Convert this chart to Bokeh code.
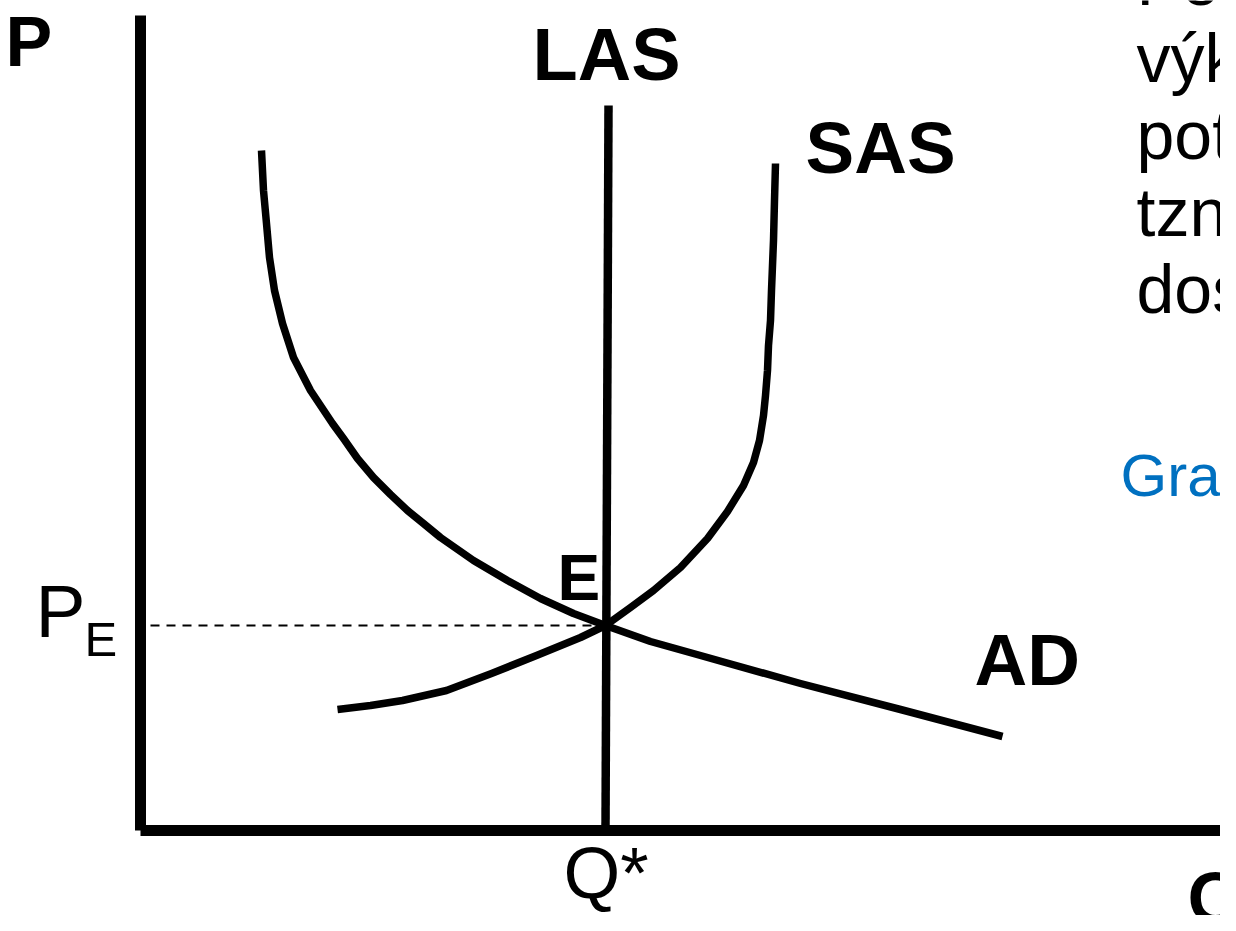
from bokeh.plotting import figure
from bokeh.models import Range1d, Label
from bokeh.embed import file_html
from bokeh.resources import INLINE

# Aggregate demand curve (Q, P)
ad_q = [121, 123, 126, 129, 134, 142, 153, 170, 192, 203, 217, 233, 250, 267, 283, 300,
        333, 367, 400, 433, 465, 510, 560, 660, 760, 862]
ad_p = [680, 640, 607, 573, 540, 507, 473, 440, 407, 392, 372, 353, 336, 320, 307, 293,
        270, 250, 232, 217, 205, 189, 175, 147, 121, 94]

# Short-run aggregate supply curve (Q, P)
sas_q = [197, 230, 262, 306, 351, 396, 440, 465, 490, 513, 540, 567, 587, 603, 613, 619, 623, 625, 627,
         628, 630, 631, 633, 634, 635]
sas_p = [121, 125, 130, 140, 157, 175, 193, 205, 223, 240, 263, 292, 319, 345, 368, 390, 415, 435, 460,
         485, 510, 540, 590, 630, 667]

# Long-run aggregate supply (vertical at potential output)
las_q = [468, 465]
las_p = [725, 0]

# Equilibrium
q_star = 465
p_e = 205

# Axes extents
p_axis_top = 815
q_axis_end = 1100

FONT = "Liberation Sans"

p = figure(width=1220, height=915,
           x_range=Range1d(-140, 1080), y_range=Range1d(-85, 830),
           output_backend="svg", toolbar_location=None,
           min_border=0, x_axis_type=None, y_axis_type=None)

p.grid.visible = False
p.outline_line_color = None
p.background_fill_color = "white"
p.border_fill_color = "white"

# axes
p.line(x=[0, 0], y=[0, p_axis_top], line_color="black", line_width=11)
p.line(x=[0, q_axis_end], y=[0, 0], line_color="black", line_width=11)

# dashed price guide
p.line(x=[10, q_star - 7], y=[p_e, p_e], line_color="black", line_width=2, line_dash="9 7")

# curves
p.line(x=ad_q, y=ad_p, line_color="black", line_width=7.5, line_join="round")
p.line(x=sas_q, y=sas_p, line_color="black", line_width=7.5, line_join="round")
p.line(x=las_q, y=las_p, line_color="black", line_width=8.5)


def lab(text, x, baseline, size, style="normal", color="black"):
    # Label anchor correction so that the glyph baseline sits at `baseline`
    p.add_layout(Label(x=x, y=baseline + 0.38 * size, text=text, text_font=FONT,
                       text_font_size=f"{size}px", text_font_style=style, text_color=color,
                       text_baseline="alphabetic", text_align="left"))


lab("P", -135, 762, 70, "bold")
lab("LAS", 392, 748, 74, "bold")
lab("SAS", 665, 655, 73, "bold")
lab("AD", 834, 143, 73, "bold")
lab("E", 417, 228, 64, "bold")
lab("P", -105, 191, 75)
lab("E", -56, 173, 49)
lab("Q*", 423, -70, 73)
lab("Q", 1047, -95, 72, "bold")

right_lines = ["Pokud se skutečný", "výkon ekonomiky rovná", "potenciálnímu produktu,",
               "tzn. ekonomika", "dosahuje plné zaměstnanosti"]
for i, t in enumerate(right_lines):
    lab(t, 996, 824 - 77 * i, 68)

lab("Grafické znázornění", 980, 332, 60, "normal", "#0070C0")

open("out.html", "w").write(file_html(p, INLINE))
